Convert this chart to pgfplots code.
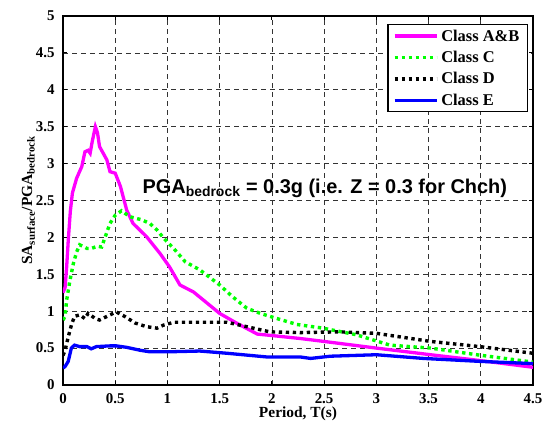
\documentclass[border=0pt]{standalone}
\usepackage{fontspec}
\setmainfont{Liberation Serif}
\setsansfont{Liberation Sans}
\usepackage{pgfplots}
\pgfplotsset{compat=1.18}
\definecolor{mlmagenta}{rgb}{1,0,1}
\definecolor{mlgreen}{rgb}{0,1,0}
\definecolor{mlblue}{rgb}{0,0,1}

\begin{document}
\begin{tikzpicture}
\begin{axis}[
  scale only axis,
  width=470bp, height=369bp,
  xmin=0, xmax=4.5, ymin=0, ymax=5,
  xtick={0,0.5,...,4.5},
  ytick={0,0.5,...,5},
  tick align=inside,
  major tick length=4bp,
  xtick pos=both, ytick pos=both,
  axis line style={line width=1.6bp},
  tick style={line width=0.8bp, black},
  grid=major,
  major grid style={black!80, line width=0.7bp, dash pattern=on 5bp off 4bp},
  /pgf/number format/assume math mode=true,
  ticklabel style={font=\fontsize{15}{17}\selectfont\bfseries},
  xticklabel style={yshift=-5bp},
  yticklabel style={xshift=-5bp},
  xlabel={Period, T(s)},
  ylabel={SA\textsubscript{surface}/PGA\textsubscript{bedrock}},
  label style={font=\fontsize{15.5}{17}\selectfont\bfseries},
  xlabel style={yshift=4bp},
  ylabel style={yshift=-6bp},
  legend style={at={(1,1)}, xshift=-5bp, yshift=-8bp, anchor=north east,
    draw=black, line width=1.3bp, fill=white,
    font=\fontsize{16.5}{18}\selectfont\bfseries,
    row sep=4.5bp, inner xsep=5bp, inner ysep=3bp,
    nodes={inner xsep=3bp}},
  legend cell align=left,
  legend image code/.code={\draw[#1] (0bp,0bp) -- (42bp,0bp);},
]
% Class A&B
\addplot[mlmagenta, line width=3.3bp] coordinates {
  (0,1.25)(0.02,1.32)(0.035,1.6)(0.05,1.95)(0.07,2.35)(0.09,2.6)(0.13,2.8)
  (0.18,2.96)(0.21,3.16)(0.24,3.18)(0.26,3.14)(0.28,3.3)(0.31,3.50)
  (0.33,3.42)(0.35,3.23)(0.42,3.05)(0.45,2.89)(0.50,2.87)(0.55,2.69)
  (0.61,2.37)(0.67,2.19)(0.80,2.01)(0.93,1.78)(1.02,1.60)(1.12,1.355)
  (1.25,1.26)(1.50,0.97)(1.66,0.84)(1.86,0.69)(2.0,0.67)(2.27,0.63)
  (2.5,0.59)(3.0,0.50)(3.52,0.41)(4.0,0.33)(4.5,0.24)};
% Class C
\addplot[mlgreen, line width=3.4bp, line cap=butt, dash pattern=on 3.4bp off 3.6bp] coordinates {
  (0,0.88)(0.02,0.93)(0.035,1.15)(0.067,1.42)(0.10,1.65)(0.13,1.80)
  (0.16,1.90)(0.23,1.85)(0.27,1.85)(0.33,1.88)(0.37,1.87)(0.40,1.99)
  (0.45,2.19)(0.50,2.30)(0.56,2.36)(0.64,2.28)(0.75,2.24)(0.83,2.19)
  (0.90,2.10)(0.97,1.98)(1.06,1.85)(1.17,1.67)(1.31,1.56)(1.50,1.355)
  (1.62,1.20)(1.76,1.04)(1.89,0.97)(2.05,0.90)(2.24,0.82)(2.49,0.77)
  (2.81,0.68)(3.13,0.54)(3.52,0.50)(3.96,0.41)(4.5,0.31)};
% Class D
\addplot[black, line width=3.4bp, line cap=butt, dash pattern=on 3.4bp off 3.6bp] coordinates {
  (0,0.40)(0.02,0.47)(0.05,0.65)(0.08,0.81)(0.11,0.93)(0.16,0.95)
  (0.21,0.90)(0.24,0.97)(0.31,0.90)(0.35,0.88)(0.45,0.95)(0.51,0.99)
  (0.59,0.93)(0.69,0.84)(0.80,0.79)(0.90,0.77)(0.96,0.81)(1.06,0.85)
  (1.57,0.85)(1.76,0.79)(1.98,0.72)(2.27,0.71)(2.65,0.72)(3.0,0.70)
  (3.52,0.59)(3.99,0.52)(4.5,0.43)};
% Class E
\addplot[mlblue, line width=3.3bp] coordinates {
  (0,0.23)(0.02,0.25)(0.05,0.32)(0.08,0.50)(0.11,0.54)(0.16,0.52)
  (0.23,0.52)(0.27,0.49)(0.32,0.52)(0.45,0.53)(0.51,0.53)(0.61,0.51)
  (0.74,0.47)(0.83,0.45)(1.02,0.45)(1.31,0.46)(1.57,0.43)(1.95,0.38)
  (2.27,0.38)(2.37,0.36)(2.56,0.39)(3.0,0.41)(3.45,0.36)(3.99,0.32)
  (4.5,0.29)};
\legend{Class A\&B, Class C, Class D, Class E}
\node[anchor=base west, inner sep=0pt, font=\fontsize{20}{22}\selectfont\sffamily\bfseries]
  at (axis cs:0.76,2.59) {PGA\textsubscript{bedrock} = 0.3g (i.e. Z = 0.3 for Chch)};
\coordinate (sw) at (rel axis cs:0,0);
\coordinate (ne) at (rel axis cs:1,1);
\end{axis}
\pgfresetboundingbox
\path ([xshift=-63bp,yshift=-43bp]sw) rectangle ([xshift=10bp,yshift=16bp]ne);
\end{tikzpicture}
\end{document}
